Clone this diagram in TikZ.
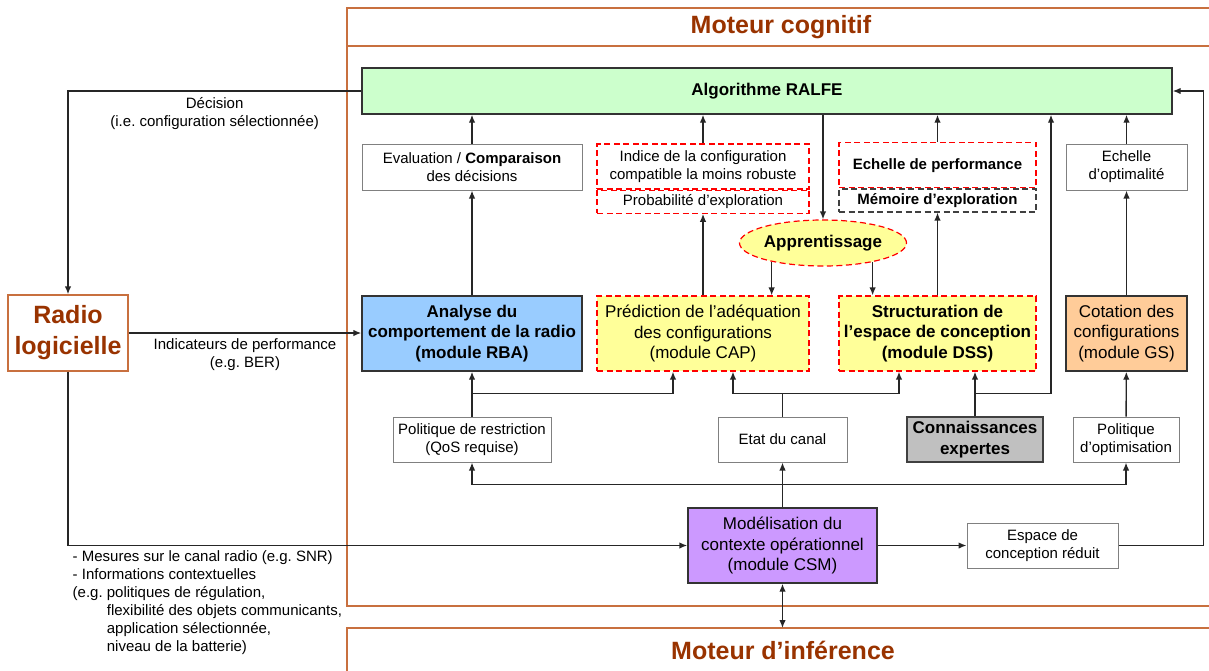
\documentclass[tikz,border=0pt]{standalone}
\usepackage{fontspec}
\setmainfont{Liberation Sans}
\usepackage{xcolor}
\usepackage{tikz}
\usetikzlibrary{shapes.geometric,arrows.meta,positioning}
\definecolor{brun}{HTML}{993300}
\definecolor{cadre}{HTML}{C8703F}
\definecolor{cvert}{HTML}{CCFFCC}
\definecolor{cbleu}{HTML}{99CCFF}
\definecolor{cjaune}{HTML}{FFFF99}
\definecolor{corange}{HTML}{FFCC99}
\definecolor{cviolet}{HTML}{CC99FF}
\definecolor{cgris}{HTML}{C0C0C0}
\newcommand{\fsmall}{\fontsize{15}{18}\selectfont}
\newcommand{\fmod}{\fontsize{17}{20.5}\selectfont}
\newcommand{\ftitre}{\fontsize{25}{31}\selectfont}
\frenchspacing

\begin{document}
\begin{tikzpicture}[x=1pt, y=-1pt, font=\fsmall,
  box/.style={draw=black!50, line width=1pt, fill=white, align=center, inner sep=0pt, minimum height=45pt},
  modbox/.style={draw=black!80, line width=1.4pt, align=center, inner sep=0pt, font=\fmod, minimum height=75pt},
  redbox/.style={draw=red, dash pattern=on 6pt off 3.5pt, line width=1.2pt},
  titre/.style={text=brun, font=\ftitre\bfseries},
  frame/.style={draw=cadre, line width=1.4pt},
  arr/.style={-{Latex[length=8pt,width=6.5pt]}, line width=1.4pt, draw=black!85},
  arrs/.style={{Latex[length=8pt,width=6.5pt]}-{Latex[length=8pt,width=6.5pt]}, line width=1.4pt, draw=black!85},
  lien/.style={line width=1.4pt, draw=black!85}]
\clip (0,0) rectangle (1209,670);

% cadres des deux moteurs
\draw[frame] (347,8) rectangle (1230,606);
\draw[frame] (347,46) -- (1230,46);
\draw[frame] (1230,628) -- (347,628) -- (347,700);
\node[titre] (mcog) at (781,27) {Moteur cognitif};
\node[titre] (minf) at (783,650) {Moteur d’inférence};
\coordinate (inf) at (782.5,628);

% algorithme
\node[box, draw=black!80, line width=1.4pt, fill=cvert, minimum width=810pt, minimum height=46pt, font=\fmod\bfseries] (alg) at (767,91) {Algorithme RALFE};

% indicateurs
\node[box, minimum width=220pt, minimum height=46pt] (eval) at (472,167) {Evaluation / \textbf{Comparaison}\\des décisions};
\node[box, redbox, minimum width=212pt] (indice) at (703,166.5) {Indice de la configuration\\compatible la moins robuste};
\node[box, redbox, minimum width=212pt, minimum height=23pt, below=0pt of indice] (proba) {Probabilité d’exploration};
\node[box, draw=black!75, dash pattern=on 6pt off 3.5pt, line width=1.2pt, minimum width=197pt, minimum height=23pt] (memexp) at (937.5,200.5) {\textbf{Mémoire d’exploration}};
\node[box, redbox, minimum width=197pt, above=0pt of memexp] (echperf) {\textbf{Echelle de performance}};
\node[box, minimum width=121pt, minimum height=46pt] (echopt) at (1126.5,167) {Echelle\\d’optimalité};
\node[ellipse, draw=red, dash pattern=on 6pt off 3.5pt, line width=1.2pt, fill=cjaune, minimum width=133pt, minimum height=46pt, inner sep=0pt, font=\fmod\bfseries] (appr) at (823,243) {Apprentissage};

% modules
\node[modbox, fill=cbleu, minimum width=220pt, font=\fmod\bfseries] (rba) at (472,333.5) {Analyse du\\comportement de la radio\\(module RBA)};
\node[modbox, redbox, fill=cjaune, minimum width=212pt] (cap) at (703,333.5) {Prédiction de l’adéquation\\des configurations\\(module CAP)};
\node[modbox, redbox, fill=cjaune, minimum width=197pt, font=\fmod\bfseries] (dss) at (937.5,333.5) {Structuration de\\l’espace de conception\\(module DSS)};
\node[modbox, fill=corange, minimum width=121pt] (gs) at (1126.5,333.5) {Cotation des\\configurations\\(module GS)};
\node[frame, text=brun, font=\ftitre\bfseries, align=center, minimum width=120pt, minimum height=76pt, inner sep=0pt] (radio) at (68,333) {Radio\\logicielle};

% entrees
\node[box, minimum width=158pt] (polr) at (472,439.5) {Politique de restriction\\(QoS requise)};
\node[box, minimum width=129pt] (etat) at (782.5,439.5) {Etat du canal};
\node[box, draw=black!75, line width=1.4pt, fill=cgris, minimum width=136pt, font=\fmod\bfseries] (conn) at (975,439.5) {Connaissances\\expertes};
\node[box, minimum width=106pt] (polo) at (1126,439.5) {Politique\\d’optimisation};
\node[modbox, fill=cviolet, minimum width=189pt] (csm) at (782.5,545.5) {Modélisation du\\contexte opérationnel\\(module CSM)};
\node[box, minimum width=151pt] (esp) at (1042.5,545.5) {Espace de\\conception réduit};

% vers l'algorithme
\draw[arr] (eval) -- (eval |- alg.south);
\draw[arr] (indice) -- (indice |- alg.south);
\draw[arr] (echperf) -- (echperf |- alg.south);
\draw[arr] (echopt) -- (echopt |- alg.south);
\draw[arr] (appr |- alg.south) -- (appr);
\draw[arr] (appr.200.6) -- (appr.200.6 |- cap.north);
\draw[arr] (appr.339.6) -- (appr.339.6 |- dss.north);
\draw[arr] (rba) -- (eval);
\draw[arr] (cap) -- (proba);
\draw[arr] (dss) -- (memexp);
\draw[arr] (gs) -- (echopt);

% radio logicielle
\draw[arr] (alg.west) -| node[pos=0.25, below, inner sep=6pt, align=center] {Décision\\(i.e. configuration sélectionnée)} (radio.north);
\draw[arr] (radio.east) -- node[below, inner sep=5pt, align=center] {Indicateurs de performance\\(e.g. BER)} (rba.west |- radio.east);
\draw[arr] (radio.south) |- node[pos=0.5, anchor=north west, inner sep=4pt, align=left] {- Mesures sur le canal radio (e.g. SNR)\\- Informations contextuelles\\(e.g. politiques de régulation,\\\phantom{(e.g. }flexibilité des objets communicants,\\\phantom{(e.g. }application sélectionnée,\\\phantom{(e.g. }niveau de la batterie)} (csm.west);

% entrees vers modules
\draw[arr] (polr) -- (rba);
\draw[arr] (polr.north) ++(0,-23) -| ([xshift=-30pt]cap.south);
\draw[lien] (etat.north) -- ++(0,-23);
\draw[arr] (etat.north) ++(0,-23) -| ([xshift=30pt]cap.south);
\draw[arr] (etat.north) ++(0,-23) -| ([xshift=-38.5pt]dss.south);
\draw[arr] (conn) -- (conn |- dss.south);
\draw[arr] (conn.north) ++(0,-23) -| ([xshift=284pt]alg.south);
\draw[arr] (polo) -- (gs);

% contexte operationnel
\draw[arr] (csm) -- (etat);
\draw[arr] (csm.north) ++(0,-23) -| (polr);
\draw[arr] (csm.north) ++(0,-23) -| (polo);
\draw[arr] (csm) -- (esp);
\draw[arr] (esp.east) -- ++(85,0) |- (alg.east);
\draw[arrs] (csm.south) -- (inf);
\end{tikzpicture}
\end{document}
